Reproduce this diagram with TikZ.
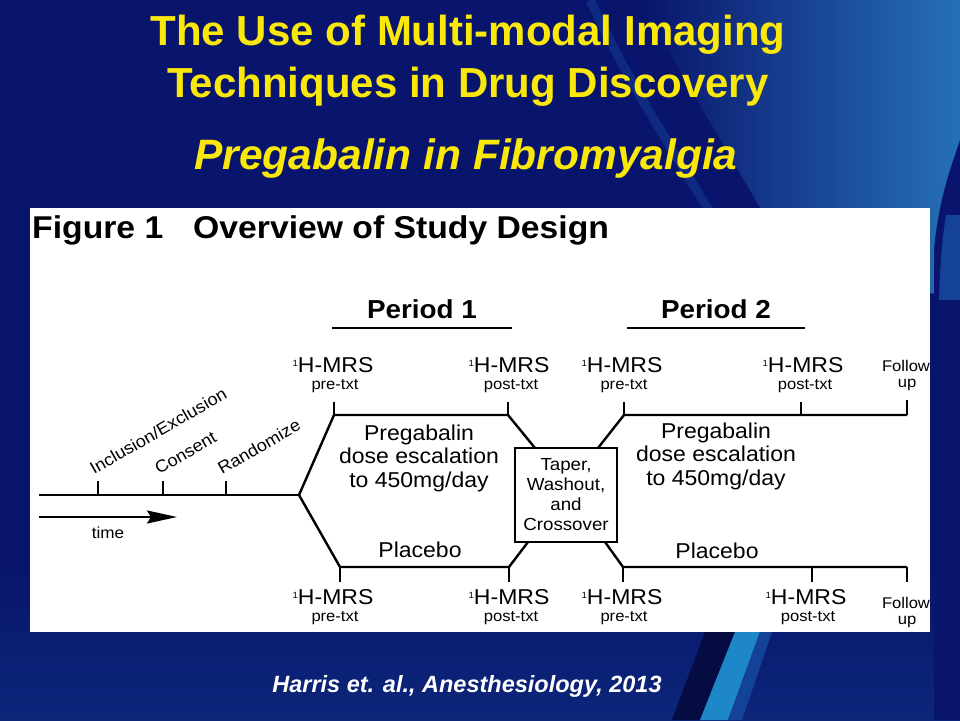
\documentclass[tikz,border=0pt]{standalone}
\usepackage{fontspec}
\setmainfont{Liberation Sans}
\newfontfamily\figfont[FakeStretch=1.07]{Liberation Sans}
\usetikzlibrary{arrows.meta}
\definecolor{bgnavy}{RGB}{9,20,108}
\definecolor{bglow}{RGB}{12,38,122}
\definecolor{bglight}{RGB}{38,112,182}
\definecolor{bgmid}{RGB}{20,66,150}
\definecolor{streak}{RGB}{30,135,200}
\definecolor{ttlyellow}{RGB}{250,232,10}
\newcommand{\isoone}{\raisebox{0.55ex}{\fontsize{9}{9}\selectfont 1}}
\tikzset{
  ttl/.style={text=ttlyellow, font=\bfseries\fontsize{42}{48}\selectfont, inner sep=0pt, anchor=base},
  mrs/.style={font=\figfont\fontsize{21.5}{23}\selectfont, inner sep=0pt},
  sublab/.style={font=\figfont\fontsize{15.5}{17}\selectfont, inner sep=0pt},
  arm/.style={font=\figfont\fontsize{21.5}{23.5}\selectfont, align=center, inner sep=0pt},
  evt/.style={font=\figfont\fontsize{17}{18}\selectfont, inner sep=0pt, rotate=30, anchor=base west},
  per/.style={font=\figfont\bfseries\fontsize{26}{30}\selectfont, inner sep=0pt, anchor=base},
  head/.style={font=\figfont\bfseries\fontsize{31.5}{34}\selectfont, inner sep=0pt, anchor=base west},
  tline/.style={line width=2.4pt, black},
}
\begin{document}
\begin{tikzpicture}[x=1pt,y=-1pt]
\useasboundingbox (0,0) rectangle (960,720);
% background
\fill[bgnavy] (0,0) rectangle (960,720);
\shade[top color=bgnavy, bottom color=bglow] (0,560) rectangle (960,720);
\shade[left color=bgnavy, right color=bglight]
  (640,0) .. controls (690,90) and (745,180) .. (790,260) -- (960,300) -- (960,0) -- cycle;
\draw[bgmid, line width=9pt, opacity=0.5] (590,0) .. controls (632,90) and (680,160) .. (720,230);
\fill[bgnavy] (960,140) .. controls (948,175) and (938,205) .. (934,250) -- (934,720) -- (960,720) -- cycle;
\fill[bgmid] (946,215) .. controls (942,240) and (940,265) .. (939,300) -- (960,300) -- (960,215) -- cycle;
\fill[black!40!bgnavy] (705,632) -- (735,632) -- (700,720) -- (672,720) -- cycle;
\fill[streak] (735,632) -- (760,632) -- (728,720) -- (700,720) -- cycle;
\fill[bgmid] (760,632) -- (772,632) -- (742,720) -- (728,720) -- cycle;

% titles
\node[ttl] (title1) at (468,45) {The Use of Multi-modal Imaging};
\node[ttl] (title2) at (468,97) {Techniques in Drug Discovery};
\node[ttl, font=\bfseries\itshape\fontsize{42.5}{48}\selectfont] (title3) at (466,169) {Pregabalin in Fibromyalgia};
\node[text=white, font=\bfseries\itshape\fontsize{23.5}{28}\selectfont, inner sep=0pt, anchor=base] (cite) at (467,692) {Harris et. al., Anesthesiology, 2013};

% figure panel
\fill[white] (30,208) rectangle (930,632);
\node[head] (fig) at (32,238) {Figure 1};
\node[head] (ovw) at (193,238) {Overview of Study Design};

% period headings
\node[per] (per1) at (422,318) {Period 1};
\node[per] (per2) at (716,318) {Period 2};
\coordinate (u1a) at (332,328); \coordinate (u1b) at (512,328);
\coordinate (u2a) at (627,328); \coordinate (u2b) at (805,328);
\draw[line width=2pt] (u1a) -- (u1b);
\draw[line width=2pt] (u2a) -- (u2b);

% timeline coordinates
\coordinate (start) at (39,495);
\coordinate (fork) at (299,495);
\coordinate (k1) at (98,495);  \coordinate (k1t) at (98,481);
\coordinate (k2) at (163,495); \coordinate (k2t) at (163,481);
\coordinate (k3) at (226,495); \coordinate (k3t) at (226,481);
\coordinate (p1ul) at (334,415); \coordinate (p1ur) at (508,415);
\coordinate (p1ll) at (340,567); \coordinate (p1lr) at (509,567);
\coordinate (p2ul) at (624,415); \coordinate (p2um) at (801,415); \coordinate (p2ur) at (907,415);
\coordinate (p2ll) at (623,567); \coordinate (p2lm) at (812,567); \coordinate (p2lr) at (907,567);
\coordinate (boxtl) at (535,448); \coordinate (boxtr) at (598,448);
\coordinate (boxbl) at (528,542); \coordinate (boxbr) at (605,542);

% box
\node[draw, line width=2.2pt, minimum width=102pt, minimum height=94pt, inner sep=0pt,
      align=center, font=\figfont\fontsize{17.5}{20}\selectfont] (box) at (566,495)
      {Taper,\\Washout,\\and\\Crossover};

% main timeline and ticks
\draw[tline] (start) -- (fork);
\draw[tline] (k1) -- (k1t);
\draw[tline] (k2) -- (k2t);
\draw[tline] (k3) -- (k3t);
\draw[tline, line join=miter] (p1ll) -- (fork) -- (p1ul) -- (p1ur) -- (boxtl);
\draw[tline, line join=miter] (boxtr) -- (p2ul) -- (p2ur);
\draw[tline, line join=miter] (p1ll) -- (p1lr) -- (boxbl);
\draw[tline, line join=miter] (boxbr) -- (p2ll) -- (p2lr);
% upper ticks
\draw[tline] (p1ul) -- ++(0,-13);
\draw[tline] (p1ur) -- ++(0,-13);
\draw[tline] (p2ul) -- ++(0,-13);
\draw[tline] (p2um) -- ++(0,-13);
\draw[tline] (p2ur) -- ++(0,-15);
% lower ticks
\draw[tline] (p1ll) -- ++(0,15);
\draw[tline] (p1lr) -- ++(0,15);
\draw[tline] (p2ll) -- ++(0,15);
\draw[tline] (p2lm) -- ++(0,15);
\draw[tline] (p2lr) -- ++(0,15);

% time arrow
\coordinate (ta) at (39,517); \coordinate (tb) at (177,517);
\draw[tline, -{Stealth[length=30pt, width=13pt, inset=4pt]}] (ta) -- (tb);
\node[sublab, font=\figfont\fontsize{16}{17}\selectfont] (time) at (108,533) {time};

% events
\node[evt] (incl) at (94,475) {Inclusion/Exclusion};
\node[evt] (cons) at (159,475) {Consent};
\node[evt] (rand) at (222,475) {Randomize};

% top labels
\node[mrs] (m1) at (333,365) {\isoone H-MRS};
\node[sublab] (s1) at (335,386) {pre-txt};
\node[mrs] (m2) at (509,365) {\isoone H-MRS};
\node[sublab] (s2) at (511,386) {post-txt};
\node[mrs] (m3) at (622,365) {\isoone H-MRS};
\node[sublab] (s3) at (624,386) {pre-txt};
\node[mrs] (m4) at (803,365) {\isoone H-MRS};
\node[sublab] (s4) at (805,386) {post-txt};
\node[sublab] (f1) at (906,366) {Follow};
\node[sublab] (f1b) at (907,385) {up};

% bottom labels
\node[mrs] (m5) at (333,597) {\isoone H-MRS};
\node[sublab] (s5) at (335,618) {pre-txt};
\node[mrs] (m6) at (509,597) {\isoone H-MRS};
\node[sublab] (s6) at (511,618) {post-txt};
\node[mrs] (m7) at (622,597) {\isoone H-MRS};
\node[sublab] (s7) at (624,618) {pre-txt};
\node[mrs] (m8) at (806,597) {\isoone H-MRS};
\node[sublab] (s8) at (808,618) {post-txt};
\node[sublab] (f2) at (906,603) {Follow};
\node[sublab] (f2b) at (907,622) {up};

% arm texts
\node[arm] (a1) at (419,458) {Pregabalin\\dose escalation\\to 450mg/day};
\node[arm] (a2) at (716,456) {Pregabalin\\dose escalation\\to 450mg/day};
\node[arm] (pl1) at (420,550) {Placebo};
\node[arm] (pl2) at (717,551) {Placebo};
\end{tikzpicture}
\end{document}
